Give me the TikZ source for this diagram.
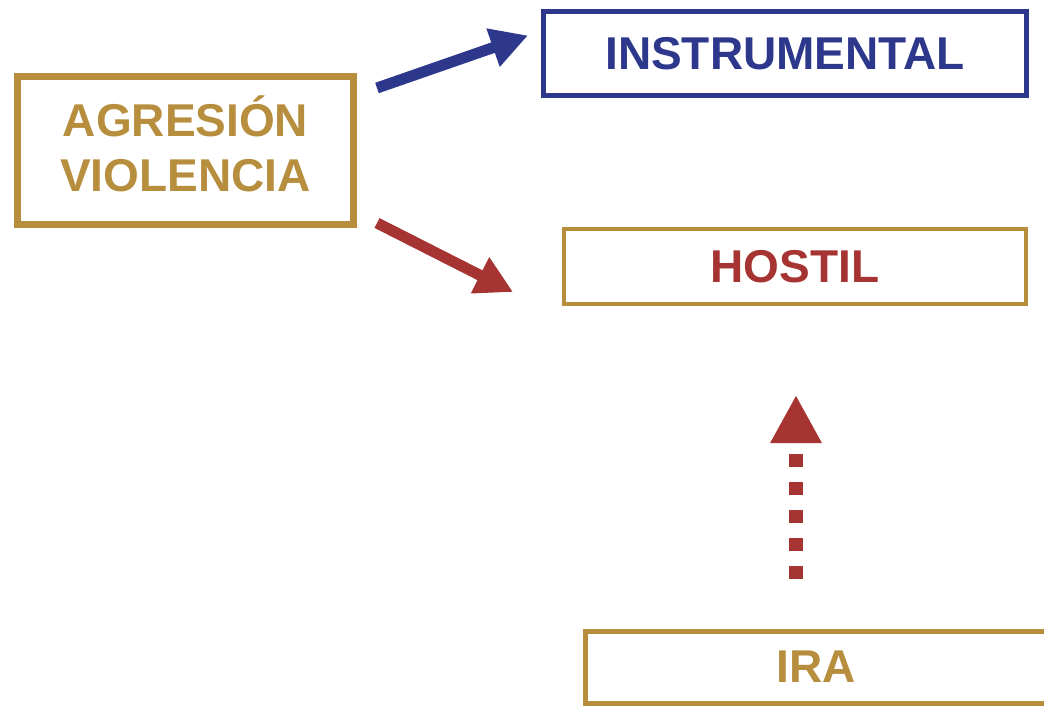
\documentclass[tikz,border=0pt]{standalone}
\usepackage{fontspec}
\setmainfont{Liberation Sans}
\usetikzlibrary{arrows.meta}

\definecolor{agrgold}{RGB}{183,142,62}
\definecolor{agrblue}{RGB}{45,56,140}
\definecolor{agrred}{RGB}{166,52,50}

\begin{document}
\begin{tikzpicture}[x=0.5pt, y=-0.5pt,
    box/.style={draw, inner sep=0pt, align=center, font=\fontsize{23}{27.5}\selectfont\bfseries},
    thickarrow/.style={line width=5.5pt, -{Triangle[length=18.5pt, width=19pt]}}]

        % Fix the size of the page
        \useasboundingbox (0,0) rectangle (1044,706);
        \clip (0,0) rectangle (1044,706);

        % Draw the boxes
        \node[box, draw=agrgold, text=agrgold, line width=3.5pt, minimum width=168pt, minimum height=74pt, text depth=7pt] (agresion) at (185.5,150.5) {AGRESIÓN\\VIOLENCIA};
        \node[box, draw=agrblue, text=agrblue, line width=2.5pt, minimum width=241.5pt, minimum height=42pt] (instrumental) at (785,53.5) {INSTRUMENTAL};
        \node[box, draw=agrgold, text=agrred, line width=2pt, minimum width=231pt, minimum height=37.5pt] (hostil) at (795,266.5) {HOSTIL};
        \node[box, draw=agrgold, text=agrgold, line width=2.5pt, minimum width=230.5pt, minimum height=36pt] (ira) at (816,667) {IRA};

        % Free ends of the arrows
        \path (agresion.north east) ++(20,15) coordinate (blueTail);
        \path (instrumental.west) ++(-13,-18) coordinate (blueTip);
        \path (agresion.south east) ++(20,-5) coordinate (redTail);
        \path (hostil.west) ++(-49,25.5) coordinate (redTip);
        \path (hostil.south) ++(1,89) coordinate (dotTip);
        \path (dotTip |- ira.north) ++(0,-50) coordinate (dotTail);

        % Draw the arrows
        \draw[thickarrow, agrblue] (blueTail) -- (blueTip);
        \draw[thickarrow, agrred] (redTail) -- (redTip);
        \draw[agrred, line width=7pt, dash pattern=on 6.5pt off 7.5pt, -{Triangle[length=24pt, width=24pt]}] (dotTail) -- (dotTip);

    \end{tikzpicture}
\end{document}
